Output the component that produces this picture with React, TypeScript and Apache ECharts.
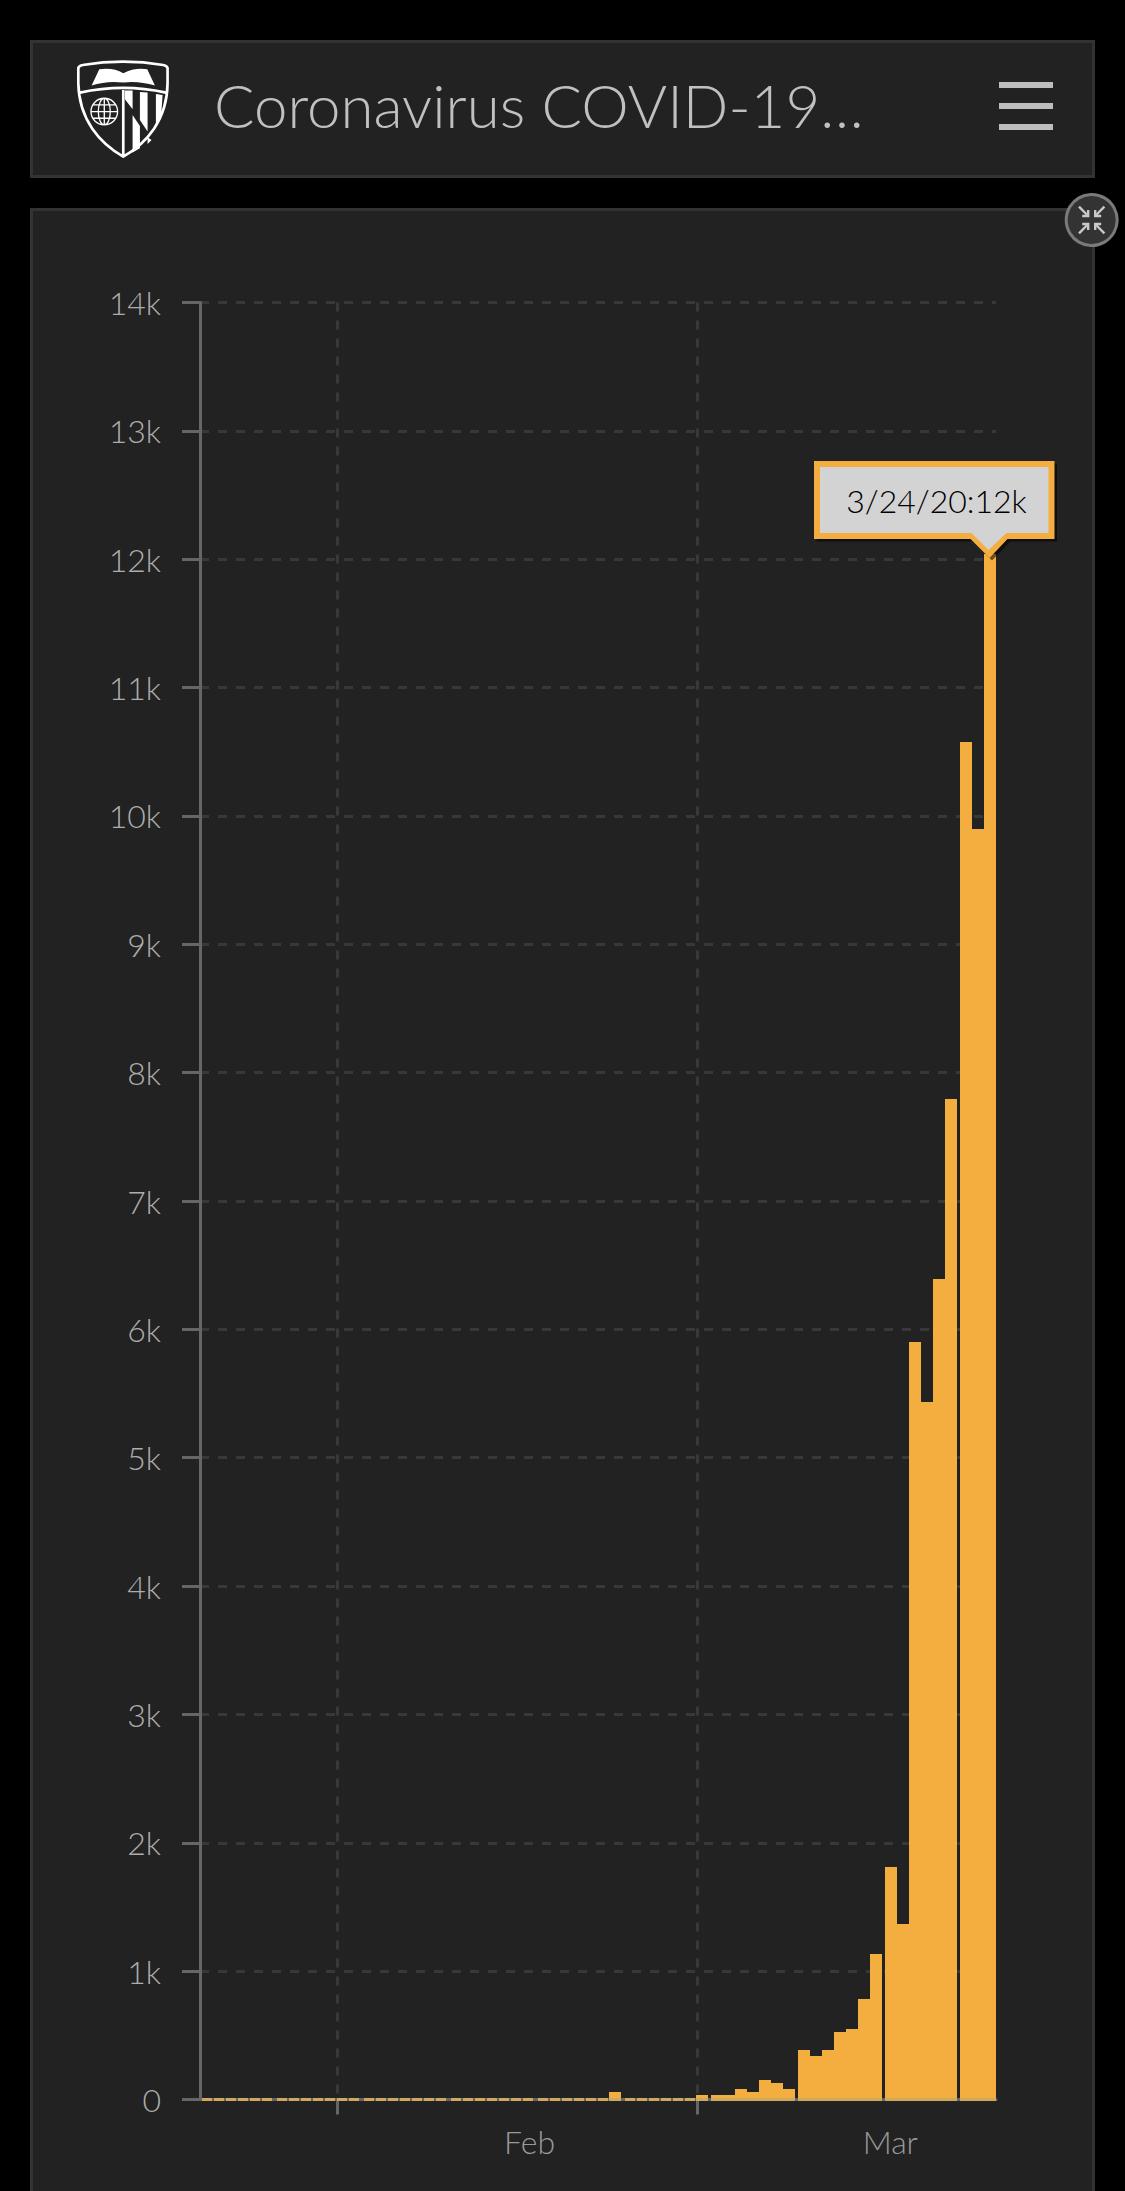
import React, { useEffect, useRef } from "react";
import * as echarts from "echarts";

const dates = [
  "1/21/20","1/22/20","1/23/20","1/24/20","1/25/20","1/26/20","1/27/20","1/28/20","1/29/20","1/30/20","1/31/20",
  "2/1/20","2/2/20","2/3/20","2/4/20","2/5/20","2/6/20","2/7/20","2/8/20","2/9/20","2/10/20","2/11/20","2/12/20","2/13/20","2/14/20","2/15/20","2/16/20","2/17/20","2/18/20","2/19/20","2/20/20","2/21/20","2/22/20","2/23/20","2/24/20","2/25/20","2/26/20","2/27/20","2/28/20","2/29/20",
  "3/1/20","3/2/20","3/3/20","3/4/20","3/5/20","3/6/20","3/7/20","3/8/20","3/9/20","3/10/20","3/11/20","3/12/20","3/13/20","3/14/20","3/15/20","3/16/20","3/17/20","3/18/20","3/19/20","3/20/20","3/21/20","3/22/20","3/23/20","3/24/20",
];
const janValues = [0,0,0,0,0,0,0,0,0,0,0];
const febValues = [0,0,0,0,0,0,0,0,0,0,0,0,0,0,0,0,0,0,0,0,0,0,58,0,0,0,0,0,0];
const marValues = [35,35,35,82,58,152,129,82,386,339,386,526,549,783,1134,1811,1367,5901,5434,6392,7794,10577,9900,12040];
const values = [...janValues, ...febValues, ...marValues];
const yTicks = ["0","1k","2k","3k","4k","5k","6k","7k","8k","9k","10k","11k","12k","13k","14k"];
const monthStarts = ["2/1/20", "3/1/20"];
const monthLabels = ["Feb", "Mar"];
const title = "Coronavirus COVID-19…";

const FONT = "Lato, 'Open Sans', sans-serif";
const ORANGE = "#f3ae3f";
const TAN = "#cfa95f";
const GRID = "#383838";
const AXIS = "#666666";

const dayIndex = (s: string) => dates.indexOf(s);
const points = dates.map((_d, i) => [i, values[i]]);
const tickDays = monthStarts.map(dayIndex);
const labelDays = tickDays.map((d) => d + 15.5);
const kLabel = (v: number) => (v === 0 ? "0" : `${Math.round(v / 1000)}k`);

// The source rounds bar edges to 3 device pixels, which leaves a hairline gap now and then.
const nudgedDay = dayIndex("3/15/20");
const snapX = (rawX: number, day: number) => 3 * Math.round((rawX - 0.1 - (day === nudgedDay ? 1 : 0)) / 3);

echarts.graphic.registerShape("jhuOutline", echarts.graphic.extendPath(
  "M55 84 Q58 76 68 75 Q190 55 310 75 Q320 76 323 84 L323 130 C322 240 260 310 190 350 C120 310 57 240 55 130 Z M60 158 Q190 130 318 158 M190 150 L190 345", {}));
echarts.graphic.registerShape("jhuFill", echarts.graphic.extendPath(
  "M95 137 L118 88 Q160 82 190 100 Q225 82 262 88 L285 137 Q235 122 190 128 Q140 122 95 137 Z M195 152 L218 152 L218 208 L195 178 Z M240 156 L263 158 L263 275 L240 240 Z M288 162 L308 165 L304 225 L288 258 Z M218 225 L240 258 L240 325 L218 338 Z M263 292 L275 300 L263 312 Z", {}));
echarts.graphic.registerShape("jhuGlobe", echarts.graphic.extendPath(
  "M93 215 A40 40 0 1 0 173 215 A40 40 0 1 0 93 215 M133 175 A18 40 0 1 0 133 255 A18 40 0 1 0 133 175 M133 175 L133 255 M93 215 L173 215 M100 195 L166 195 M100 235 L166 235", {}));

const arrow = (cx: number, cy: number, sx: number, sy: number) => [
  { type: "polyline", z: 6, shape: { points: [[cx + sx * 12.7, cy + sy * 13.3], [cx + sx * 3.5, cy + sy * 4]] }, style: { stroke: "#c8c8c8", lineWidth: 2.4, fill: "none" } },
  { type: "polyline", z: 6, shape: { points: [[cx + sx * 9.5, cy + sy * 4], [cx + sx * 3.5, cy + sy * 4], [cx + sx * 3.5, cy + sy * 10]] }, style: { stroke: "#c8c8c8", lineWidth: 2.4, fill: "none" } },
];

const buildOption = () => ({
  animation: false,
  backgroundColor: "#000000",
  grid: { left: 200, top: 302.5, width: 796, height: 1797, containLabel: false },
  xAxis: {
    type: "value",
    min: 0,
    max: dates.length,
    axisLine: { show: true, onZero: false, lineStyle: { color: AXIS, width: 3 } },
    axisTick: { show: true, length: 15, lineStyle: { color: AXIS, width: 3 }, customValues: tickDays },
    splitLine: { show: true, lineStyle: { color: GRID, width: 3, type: [9, 9] } },
    axisLabel: {
      show: true,
      customValues: labelDays,
      formatter: (v: number) => monthLabels[labelDays.indexOf(v)] ?? "",
      color: "#999999",
      fontSize: 32,
      fontFamily: FONT,
      fontWeight: 300,
      margin: 26,
      hideOverlap: false,
    },
  },
  yAxis: {
    type: "value",
    min: 0,
    max: 14000,
    interval: 1000,
    axisLine: { show: true, onZero: false, lineStyle: { color: AXIS, width: 3 } },
    axisTick: { show: true, length: 18, lineStyle: { color: AXIS, width: 3 } },
    splitLine: { show: true, lineStyle: { color: GRID, width: 3, type: [9, 9] } },
    axisLabel: {
      formatter: (v: number) => yTicks[Math.round(v / 1000)],
      color: "#adadad",
      fontSize: 32,
      fontFamily: FONT,
      fontWeight: 300,
      margin: 39,
    },
  },
  series: [
    {
      type: "custom",
      name: "cases",
      z: 3,
      clip: false,
      data: points,
      encode: { x: 0, y: 1 },
      renderItem: (_p: any, api: any) => {
        const day = api.value(0);
        const v = api.value(1);
        const [rawX, base] = api.coord([day, 0]);
        const top = Math.round(api.coord([day, v])[1]);
        const x = snapX(rawX, day);
        const bottom = base - 1.5;
        const children: any[] = [];
        if (v > 0) {
          children.push({ type: "rect", shape: { x, y: top, width: 12, height: bottom - top }, style: { fill: ORANGE } });
          children.push({ type: "rect", shape: { x, y: bottom, width: 12, height: 3 }, style: { fill: TAN } });
        } else {
          children.push({ type: "rect", shape: { x: x + 1, y: bottom, width: 10, height: 3 }, style: { fill: TAN } });
        }
        return { type: "group", children };
      },
    },
    {
      type: "custom",
      name: "callout",
      z: 4,
      clip: false,
      data: [points[points.length - 1]],
      encode: { x: 0, y: 1 },
      renderItem: (_p: any, api: any) => {
        const day = api.value(0);
        const v = api.value(1);
        const [cx0, cy0] = api.coord([day + 0.5, v]);
        const cx = Math.round(cx0) - 0.5;
        const cy = Math.round(cy0);
        const outer = [
          [cx - 175.5, cy - 93], [cx + 65, cy - 93], [cx + 65, cy - 15], [cx + 18, cy - 15], [cx, cy + 4], [cx - 19, cy - 15], [cx - 175.5, cy - 15],
        ];
        const inner = [
          [cx - 169.5, cy - 87], [cx + 59, cy - 87], [cx + 59, cy - 21], [cx + 17, cy - 21], [cx - 1, cy - 4], [cx - 18, cy - 21], [cx - 169.5, cy - 21],
        ];
        const label = `${dates[dates.length - 1]}:${kLabel(v)}`;
        return {
          type: "group",
          children: [
            { type: "polygon", shape: { points: outer.map(([a, b]) => [a + 2.5, b + 2.5]) }, style: { fill: "rgba(0,0,0,0.55)" } },
            { type: "polygon", shape: { points: outer }, style: { fill: ORANGE } },
            { type: "polygon", shape: { points: inner }, style: { fill: "#d3d3d3" } },
            { type: "text", style: { text: label, x: cx - 53, y: cy - 54, textAlign: "center", textVerticalAlign: "middle", fontSize: 32, fontFamily: FONT, fontWeight: 300, fill: "#000000" } },
          ],
        };
      },
    },
  ],
  graphic: [
    { type: "rect", z: -10, shape: { x: 31.5, y: 41.5, width: 1062, height: 135 }, style: { fill: "#222222", stroke: "#333333", lineWidth: 3 } },
    { type: "rect", z: -10, shape: { x: 31.5, y: 209.5, width: 1062, height: 2100 }, style: { fill: "#222222", stroke: "#333333", lineWidth: 3 } },
    { type: "jhuOutline", x: 60, y: 40, scaleX: 1 / 3, scaleY: 1 / 3, style: { fill: "none", stroke: "#ffffff", lineWidth: 8 } },
    { type: "jhuFill", x: 60, y: 40, scaleX: 1 / 3, scaleY: 1 / 3, style: { fill: "#ffffff" } },
    { type: "jhuGlobe", x: 60, y: 40, scaleX: 1 / 3, scaleY: 1 / 3, style: { fill: "none", stroke: "#ffffff", lineWidth: 4 } },
    { type: "text", style: { text: title, x: 214, y: 105, textVerticalAlign: "middle", fontSize: 60, fontFamily: FONT, fontWeight: 300, fill: "#c0c0c0" } },
    { type: "rect", shape: { x: 999, y: 82, width: 54, height: 6 }, style: { fill: "#bdbdbd" } },
    { type: "rect", shape: { x: 999, y: 103, width: 54, height: 6 }, style: { fill: "#bdbdbd" } },
    { type: "rect", shape: { x: 999, y: 124, width: 54, height: 6 }, style: { fill: "#bdbdbd" } },
    { type: "circle", z: 5, shape: { cx: 1091.7, cy: 220, r: 25.5 }, style: { fill: "#333333", stroke: "#7a7a7a", lineWidth: 3 } },
    ...arrow(1091.7, 220, -1, -1),
    ...arrow(1091.7, 220, 1, -1),
    ...arrow(1091.7, 220, -1, 1),
    ...arrow(1091.7, 220, 1, 1),
  ],
});

export default function App() {
  const ref = useRef<HTMLDivElement>(null);
  useEffect(() => {
    document.body.style.margin = "0";
    document.body.style.background = "#000";
    const chart = echarts.init(ref.current!, null, { renderer: "svg" });
    chart.setOption(buildOption() as any);
    return () => chart.dispose();
  }, []);
  return <div ref={ref} style={{ width: 1125, height: 2191 }} />;
}
